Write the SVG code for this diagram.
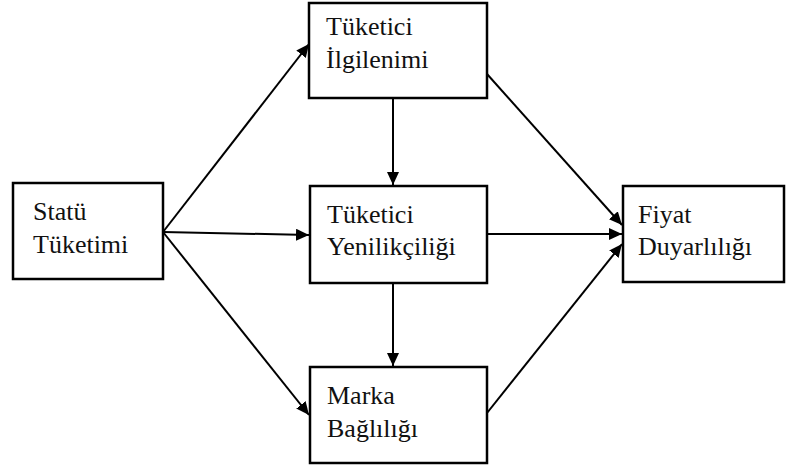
<svg xmlns="http://www.w3.org/2000/svg" width="786" height="470" viewBox="0 0 786 470">
<style>
.box{fill:#fff;stroke:#000;stroke-width:2.5}
.t{font-family:'Liberation Serif','Times New Roman',serif;font-size:26px;fill:#111}
.c{stroke:#000;stroke-width:2;fill:none;marker-end:url(#ah)}
</style>
<defs>
<marker id="ah" markerUnits="userSpaceOnUse" markerWidth="14" markerHeight="12" refX="13" refY="6" orient="auto">
<path d="M0,0 L13,6 L0,12 z" fill="#000"/>
</marker>
</defs>
<rect width="786" height="470" fill="#fff"/>
<g id="connectors">
<line class="c" x1="163" y1="232" x2="309" y2="44"/>
<line class="c" x1="163" y1="232" x2="309" y2="235"/>
<line class="c" x1="163" y1="232" x2="309" y2="415"/>
<line class="c" x1="393" y1="98" x2="393" y2="185"/>
<line class="c" x1="393" y1="283" x2="393" y2="366"/>
<line class="c" x1="487" y1="74" x2="622" y2="225"/>
<line class="c" x1="487" y1="234" x2="622" y2="234"/>
<line class="c" x1="487" y1="413" x2="622" y2="244"/>
</g>
<g font-family="Liberation Serif, serif" font-size="26">
<g id="statu">
<rect class="box" x="13" y="183" width="150" height="96"/>
<text class="t" x="33" y="220">Statü</text>
<text class="t" x="33" y="253">Tüketimi</text>
</g>
<g id="ilgilenim">
<rect class="box" x="309" y="3" width="178" height="95"/>
<text class="t" x="326" y="35">Tüketici</text>
<text class="t" x="326" y="68">İlgilenimi</text>
</g>
<g id="yenilikcilik">
<rect class="box" x="310" y="186" width="177" height="97"/>
<text class="t" x="327" y="223">Tüketici</text>
<text class="t" x="327" y="255">Yenilikçiliği</text>
</g>
<g id="marka">
<rect class="box" x="310" y="367" width="177" height="96"/>
<text class="t" x="327" y="404">Marka</text>
<text class="t" x="327" y="437">Bağlılığı</text>
</g>
<g id="fiyat">
<rect class="box" x="623" y="186" width="161" height="96"/>
<text class="t" x="638" y="223">Fiyat</text>
<text class="t" x="638" y="255">Duyarlılığı</text>
</g>
</g>
</svg>
